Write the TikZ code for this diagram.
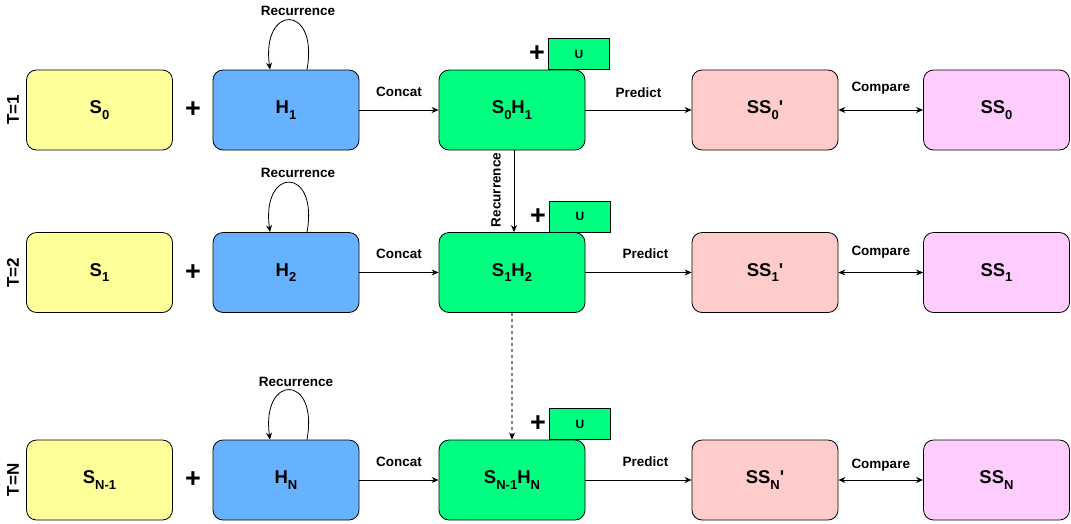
\documentclass[tikz,border=0pt]{standalone}
\usepackage{fontspec}
\setmainfont{Liberation Sans}
\usetikzlibrary{arrows.meta}
\definecolor{inyellow}{HTML}{FFFF99}
\definecolor{hidblue}{HTML}{66B2FF}
\definecolor{catgreen}{HTML}{00FF80}
\definecolor{predpink}{HTML}{FFCCCC}
\definecolor{truepink}{HTML}{FFCCFF}
\newcommand{\lo}[1]{\raisebox{-5.5pt}{\fontsize{13}{13}\selectfont #1}}

\begin{document}
\begin{tikzpicture}[x=1pt,y=-1pt,every node/.style={font=\bfseries},
  box/.style={draw,rounded corners=10pt,minimum width=146pt,minimum height=80pt,line width=0.8pt,font=\fontsize{18.5}{20}\selectfont\bfseries},
  ubox/.style={draw,fill=catgreen,minimum width=61pt,minimum height=31pt,line width=0.8pt,font=\fontsize{12}{13}\selectfont\bfseries},
  lbl/.style={font=\fontsize{13.5}{15}\selectfont\bfseries},
  plus/.style={font=\fontsize{27}{27}\selectfont\bfseries},
  tlbl/.style={rotate=90,font=\fontsize{17}{19}\selectfont\bfseries},
  arr/.style={-{Stealth[length=7pt,width=6pt]},line width=0.8pt},
  arrb/.style={{Stealth[length=7pt,width=6pt]}-{Stealth[length=7pt,width=6pt]},line width=0.8pt},
  dotarr/.style={-{Stealth[length=7pt,width=6pt,color=black]},draw=gray,line width=1.3pt,dash pattern=on 3pt off 3pt}]
\useasboundingbox (0,0) rectangle (1071,523);
% rows of the unrolled network: T=1, T=2, T=N
\def\ya{110}
\def\yb{272.5}
\def\yc{480}

% row T=1
\node[tlbl] (ta) at (13,\ya) {T=1};
\node[box,fill=inyellow] (s0) at (99.5,\ya) {S\lo{0}};
\node[plus] (pa) at (193,\ya) {+};
\node[box,fill=hidblue] (h1) at (286,\ya) {H\lo{1}};
\node[box,fill=catgreen] (c1) at (512,\ya) {S\lo{0}H\lo{1}};
\node[box,fill=predpink] (p1) at (765,\ya) {SS\lo{0}\textquotesingle};
\node[box,fill=truepink] (t1) at (996.5,\ya) {SS\lo{0}};
\node[ubox,anchor=south] (ua) at (579,\ya-40) {U};
\node[plus] (qa) at (537,\ya-56) {+};
\node[lbl] (ra) at (298,\ya-99) {Recurrence};
\draw[arr] ([xshift=21pt]h1.north) .. controls +(12,-66) and +(-9,-66) .. ([xshift=-16pt]h1.north);
\draw[arr] (h1) -- node[lbl,above=10pt] (ka) {Concat} (c1);
\draw[arr] (c1) -- node[lbl,above=9pt] (da) {Predict} (p1);
\draw[arrb] (p1) -- node[lbl,above=12pt] (ma) {Compare} (t1);

% row T=2
\node[tlbl] (tb) at (13,\yb) {T=2};
\node[box,fill=inyellow] (s1) at (99.5,\yb) {S\lo{1}};
\node[plus] (pb) at (193,\yb) {+};
\node[box,fill=hidblue] (h2) at (286,\yb) {H\lo{2}};
\node[box,fill=catgreen] (c2) at (512,\yb) {S\lo{1}H\lo{2}};
\node[box,fill=predpink] (p2) at (765,\yb) {SS\lo{1}\textquotesingle};
\node[box,fill=truepink] (t2) at (996.5,\yb) {SS\lo{1}};
\node[ubox,anchor=south] (ub) at (580,\yb-40) {U};
\node[plus] (qb) at (538,\yb-56) {+};
\node[lbl] (rb) at (298,\yb-100) {Recurrence};
\draw[arr] ([xshift=21pt]h2.north) .. controls +(12,-66) and +(-9,-66) .. ([xshift=-16pt]h2.north);
\draw[arr] (h2) -- node[lbl,above=10pt] (kb) {Concat} (c2);
\draw[arr] (c2) -- node[lbl,above=10pt,xshift=7pt] (db) {Predict} (p2);
\draw[arrb] (p2) -- node[lbl,above=10pt] (mb) {Compare} (t2);

% row T=N
\node[tlbl] (tc) at (13,\yc) {T=N};
\node[box,fill=inyellow] (sn) at (99.5,\yc) {S\lo{N-1}};
\node[plus] (pc) at (193,\yc) {+};
\node[box,fill=hidblue] (hn) at (286,\yc) {H\lo{N}};
\node[box,fill=catgreen] (cn) at (512,\yc) {S\lo{N-1}H\lo{N}};
\node[box,fill=predpink] (pn) at (765,\yc) {SS\lo{N}\textquotesingle};
\node[box,fill=truepink] (tn) at (996.5,\yc) {SS\lo{N}};
\node[ubox,anchor=south] (uc) at (580,\yc-40) {U};
\node[plus] (qc) at (538,\yc-56) {+};
\node[lbl] (rc) at (296,\yc-98) {Recurrence};
\draw[arr] ([xshift=21pt]hn.north) .. controls +(12,-66) and +(-9,-66) .. ([xshift=-16pt]hn.north);
\draw[arr] (hn) -- node[lbl,above=10pt] (kc) {Concat} (cn);
\draw[arr] (cn) -- node[lbl,above=10pt,xshift=7pt] (dc) {Predict} (pn);
\draw[arrb] (pn) -- node[lbl,above=5pt] (mc) {Compare} (tn);

% recurrence between the concat boxes
\draw[arr] ([xshift=2pt]c1.south) -- ([xshift=2pt]c2.north);
\node[lbl,rotate=90] (rv) at (496,190) {Recurrence};
\draw[dotarr] (c2.south) -- (cn.north);
\end{tikzpicture}
\end{document}
